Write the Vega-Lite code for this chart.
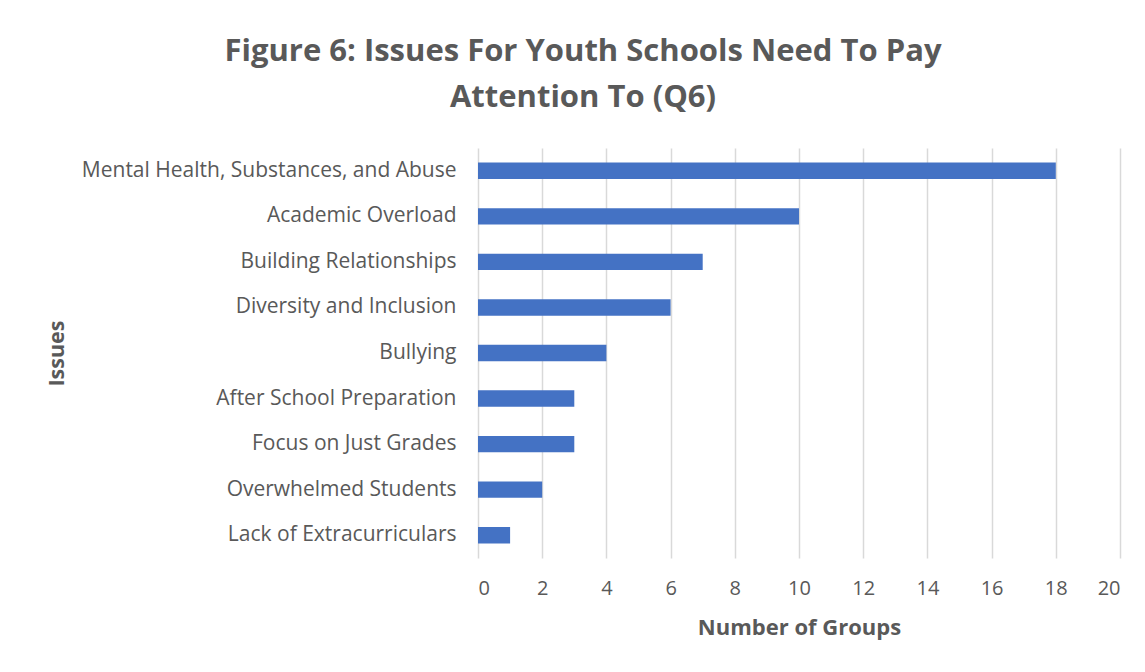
{
  "$schema": "https://vega.github.io/schema/vega-lite/v6.json",
  "width": 642,
  "height": 410,
  "autosize": {"type": "none"},
  "padding": {"left": 478, "top": 148, "right": 25, "bottom": 114},
  "background": "white",
  "title": {
    "text": ["Figure 6: Issues For Youth Schools Need To Pay", "Attention To (Q6)"],
    "anchor": "middle",
    "dx": -216,
    "offset": 34,
    "font": "Open Sans",
    "fontSize": 31,
    "fontWeight": "bold",
    "color": "#595959",
    "lineHeight": 46
  },
  "data": {
    "values": [
      {"issue": "Mental Health, Substances, and Abuse", "groups": 18},
      {"issue": "Academic Overload", "groups": 10},
      {"issue": "Building Relationships", "groups": 7},
      {"issue": "Diversity and Inclusion", "groups": 6},
      {"issue": "Bullying", "groups": 4},
      {"issue": "After School Preparation", "groups": 3},
      {"issue": "Focus on Just Grades", "groups": 3},
      {"issue": "Overwhelmed Students", "groups": 2},
      {"issue": "Lack of Extracurriculars", "groups": 1}
    ]
  },
  "mark": {"type": "bar", "color": "#4472C4"},
  "encoding": {
    "y": {
      "field": "issue",
      "type": "nominal",
      "sort": null,
      "scale": {"paddingInner": 0.64, "paddingOuter": 0.32},
      "axis": {
        "title": "Issues",
        "titleFont": "Open Sans",
        "titleFontSize": 21.5,
        "titleFontWeight": "bold",
        "titleColor": "#595959",
        "titleX": -410,
        "labelFont": "Open Sans",
        "labelFontSize": 21,
        "labelColor": "#595959",
        "labelPadding": 22,
        "labelLimit": 0,
        "ticks": false,
        "domain": false,
        "grid": false
      }
    },
    "x": {
      "field": "groups",
      "type": "quantitative",
      "scale": {"domain": [0, 20]},
      "axis": {
        "title": "Number of Groups",
        "titleFont": "Open Sans",
        "titleFontSize": 22,
        "titleFontWeight": "bold",
        "titleColor": "#595959",
        "titlePadding": 19,
        "values": [0, 2, 4, 6, 8, 10, 12, 14, 16, 18, 20],
        "labelFont": "Open Sans",
        "labelFontSize": 20,
        "labelColor": "#595959",
        "labelPadding": 20,
        "ticks": false,
        "domain": false,
        "grid": true,
        "gridColor": "#d9d9d9",
        "gridWidth": 1.5
      }
    }
  },
  "config": {"view": {"stroke": null}}
}
